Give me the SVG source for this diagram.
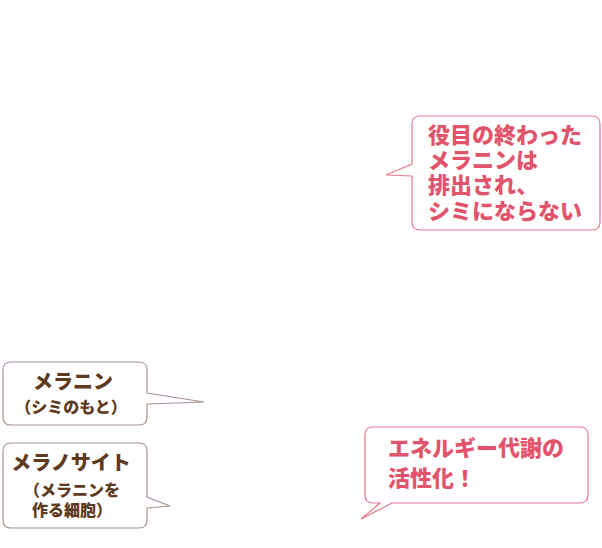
<svg xmlns="http://www.w3.org/2000/svg" width="602" height="548" viewBox="0 0 602 548">
<style>
.pk{fill:#fff;stroke:#e8798c;stroke-width:1.2}
.br{fill:#fff;stroke:#a8948a;stroke-width:1.2}
.tp{font-family:"Noto Sans CJK JP","Noto Sans",sans-serif;font-weight:900;fill:#e2546c}
.tb{font-family:"Noto Sans CJK JP","Noto Sans",sans-serif;font-weight:900;fill:#603a1e}
</style>
<rect width="602" height="548" fill="#fff"/>
<g id="connectors"></g>
<g id="bubble-excreted">
<path class="pk" d="M420,116 H592 Q600,116 600,124 V222 Q600,230 592,230 H420 Q412,230 412,222 V176 L386,175 L412,164 V124 Q412,116 420,116 Z"/>
<text class="tp" font-size="22" x="428" y="143">役目の終わった</text>
<text class="tp" font-size="22" x="428" y="168">メラニンは</text>
<text class="tp" font-size="22" x="428" y="193">排出され、</text>
<text class="tp" font-size="22" x="428" y="219">シミにならない</text>
</g>
<g id="bubble-melanin">
<path class="br" d="M11,362 H139 Q147,362 147,370 V393 L204,402 L147,404 V417 Q147,425 139,425 H11 Q3,425 3,417 V370 Q3,362 11,362 Z"/>
<text class="tb" font-size="20" x="73" y="389" text-anchor="middle">メラニン</text>
<text class="tb" font-size="16" x="71" y="413" text-anchor="middle">（シミのもと）</text>
</g>
<g id="bubble-melanocyte">
<path class="br" d="M11,443 H139 Q147,443 147,451 V497 L170,506 L147,508 V520 Q147,528 139,528 H11 Q3,528 3,520 V451 Q3,443 11,443 Z"/>
<text class="tb" font-size="20" x="71" y="470" text-anchor="middle">メラノサイト</text>
<text class="tb" font-size="16" x="72" y="496" text-anchor="middle">（メラニンを</text>
<text class="tb" font-size="16" x="72" y="516" text-anchor="middle">作る細胞）</text>
</g>
<g id="bubble-energy">
<path class="pk" d="M373,427 H580 Q588,427 588,435 V495 Q588,503 580,503 H392 L361,519 L380,503 H373 Q365,503 365,495 V435 Q365,427 373,427 Z"/>
<text class="tp" font-size="22" x="388" y="456">エネルギー代謝の</text>
<text class="tp" font-size="22" x="388" y="486">活性化！</text>
</g>
</svg>
